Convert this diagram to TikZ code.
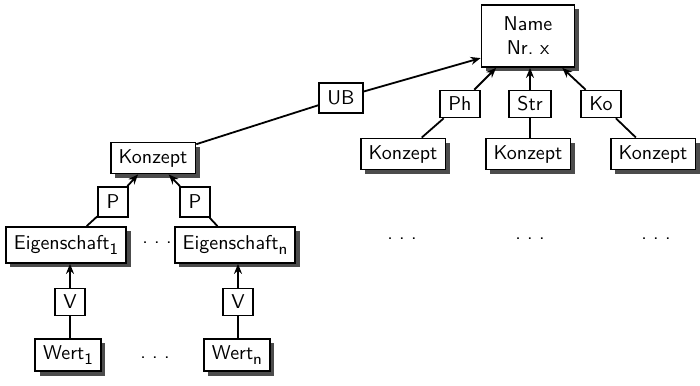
\documentclass[tikz,border=0pt]{standalone}
\usepackage{amsmath,amssymb}
\usepackage{xcolor}
\usepackage{tikz}
\usetikzlibrary{shapes,arrows,positioning,calc,shadows,arrows.meta}

\newcommand{\idx}[1]{\raisebox{-2.5pt}{\footnotesize #1}}
\newcommand{\punkte}{.\hspace{3.2pt}.\hspace{3.2pt}.}

\tikzset{
    entity/.style={draw, line width=0.9pt, fill=white, inner xsep=4pt, minimum height=15pt,
        drop shadow={shadow xshift=2.2pt, shadow yshift=-2.2pt, fill=black!70, opacity=1}},
    rel/.style={draw, line width=0.8pt, fill=white, inner sep=2.5pt, minimum height=13.5pt, minimum width=15pt},
    link/.style={line width=0.9pt},
    arr/.style={line width=0.9pt, -{Stealth[length=5pt, width=4pt]}}
}

\begin{document}
\begin{tikzpicture}[x=0.5pt, y=-0.5pt, font=\sffamily]
        \useasboundingbox (0,0) rectangle (700,385);

        % Oberbegriff
        \node[entity, align=center, minimum width=46.5pt, minimum height=31pt] (name) at (528,36) {Name\\Nr.\ x};
        \node[rel, minimum width=20pt] (ph) at (460,104) {Ph};
        \node[rel, minimum width=21pt] (str) at (530,104) {Str};
        \node[rel, minimum width=20pt] (ko) at (601,104) {Ko};
        \node[entity] (konph) at (403,154) {Konzept};
        \node[entity] (konstr) at (528,154) {Konzept};
        \node[entity] (konko) at (653,154) {Konzept};
        \node (dotsph) at (402,239) {\punkte};
        \node (dotsstr) at (530,239) {\punkte};
        \node (dotsko) at (656,239) {\punkte};

        \draw[link] (konph) -- (ph);
        \draw[link] (str |- konstr.north) -- (str);
        \draw[link] (konko) -- (ko);
        \draw[arr] (ph) -- (name);
        \draw[arr] (str) -- (str |- name.south);
        \draw[arr] (ko) -- (name);

        % Unterbegriff
        \node[rel, minimum width=22pt, minimum height=15pt] (ub) at (341,98) {UB};
        \node[entity] (konzept) at (153,158) {Konzept};
        \draw[link] (konzept) -- (ub);
        \draw[arr] (ub) -- (name.205);

        % Eigenschaften
        \node[rel, minimum height=15pt] (p1) at (113,202) {P};
        \node[rel, minimum height=15pt] (pn) at (195,202) {P};
        \node[entity, minimum height=18pt, inner xsep=4pt] (e1) at (66,245) {Eigenschaft\idx{1}};
        \node[entity, minimum height=18pt, inner xsep=4pt] (en) at (235,245) {Eigenschaft\idx{n}};
        \node (dotse) at (157,243) {\punkte};
        \draw[link] (e1) -- (p1);
        \draw[link] (en) -- (pn);
        \draw[arr] (p1) -- (konzept);
        \draw[arr] (pn) -- (konzept);

        % Werte
        \node[rel] (v1) at (70,302) {V};
        \node[rel] (vn) at (238,302) {V};
        \node[entity] (w1) at (68,355) {Wert\idx{1}};
        \node[entity] (wn) at (237,355) {Wert\idx{n}};
        \node (dotsw) at (155,358) {\punkte};
        \draw[link] (v1 |- w1.north) -- (v1);
        \draw[link] (vn |- wn.north) -- (vn);
        \draw[arr] (v1) -- (v1 |- e1.south);
        \draw[arr] (vn) -- (vn |- en.south);
    \end{tikzpicture}
\end{document}
